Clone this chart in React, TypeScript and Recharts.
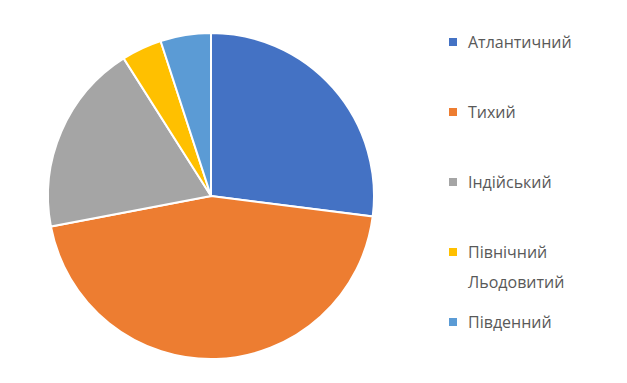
import React from "react";
import { PieChart, Pie, Cell, Legend } from "recharts";

const oceans = ["Атлантичний", "Тихий", "Індійський", "Північний Льодовитий", "Південний"];
const shares = [27, 45, 19, 4, 5];
const colors = ["#4472C4", "#ED7D31", "#A5A5A5", "#FFC000", "#5B9BD5"];

const data = oceans.map((name, i) => ({ name, value: shares[i] }));

const OceanLegend = ({ payload }: any) => {
  const items = [...(payload || [])].sort(
    (a: any, b: any) => oceans.indexOf(a.value) - oceans.indexOf(b.value),
  );
  return (
    <div style={{ position: "relative", width: 170, height: 320 }}>
      {items.map((entry: any, index: number) => (
        <div
          key={`legend-${index}`}
          style={{
            position: "absolute",
            top: index * 70,
            left: 0,
            display: "flex",
            alignItems: "flex-start",
          }}
        >
          <div
            style={{
              width: 8,
              height: 8,
              marginTop: 11,
              marginRight: 11,
              backgroundColor: entry.color,
            }}
          />
          <span
            style={{
              width: 140,
              fontFamily: "Open Sans",
              fontSize: 16,
              lineHeight: "30px",
              color: "#595959",
            }}
          >
            {entry.value}
          </span>
        </div>
      ))}
    </div>
  );
};

export default function App() {
  return (
    <div style={{ position: "absolute", left: 0, top: 0, background: "#fff" }}>
      <PieChart
        width={627}
        height={383}
        margin={{ top: 0, right: 0, bottom: 0, left: 0 }}
      >
        <Pie
          data={data}
          dataKey="value"
          nameKey="name"
          cx={211}
          cy={196}
          outerRadius={163}
          startAngle={90}
          endAngle={-270}
          stroke="#fff"
          strokeWidth={2}
          isAnimationActive={false}
        >
          {data.map((d, i) => (
            <Cell key={d.name} fill={colors[i]} />
          ))}
        </Pie>
        <Legend
          content={<OceanLegend />}
          itemSorter={null}
          wrapperStyle={{ left: 449, top: 27, width: 170 }}
        />
      </PieChart>
    </div>
  );
}
